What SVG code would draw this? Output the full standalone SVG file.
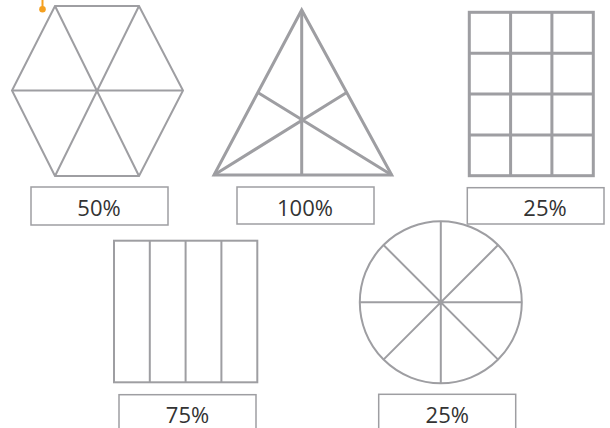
<svg xmlns="http://www.w3.org/2000/svg" width="610" height="428" viewBox="0 0 610 428">
<style>
.s{fill:none;stroke:#9e9ea2;stroke-width:2;stroke-linejoin:miter}
.t{stroke-width:3}
.g{stroke-width:3}
.b{fill:#fff;stroke:#9e9ea2;stroke-width:1.5}
.lbl{font-family:"Open Sans","Noto Sans","Liberation Sans",sans-serif;font-size:22px;fill:#333;text-anchor:middle}
</style>
<rect width="610" height="428" fill="#fff"/>
<g id="marker">
<line x1="42.5" y1="0" x2="42.5" y2="9" stroke="#f5a020" stroke-width="2"/>
<circle cx="42.5" cy="9.3" r="3.3" fill="#f5a020"/>
</g>
<g id="hexagon">
<path class="s" d="M55,6 L139,6 L183,90.5 L139,176 L55,176 L12,90.5 Z"/>
<path class="s" d="M12,90.5 L183,90.5 M55,6 L139,176 M139,6 L55,176"/>
</g>
<g id="label-50">
<rect class="b" x="31" y="187" width="137" height="38"/>
<text class="lbl" x="99" y="216">50%</text>
</g>
<g id="triangle">
<path class="s t" d="M301.7,10 L391.7,175 L214,175 Z"/>
<path class="s t" d="M301.7,10 L301.7,175 M214,175 L346.7,92.5 M391.7,175 L257.8,92.5"/>
</g>
<g id="label-100">
<rect class="b" x="237" y="187" width="137" height="37"/>
<text class="lbl" x="305" y="215.5">100%</text>
</g>
<g id="grid">
<rect class="s g" x="469.3" y="12.3" width="124" height="163.4"/>
<path class="s g" d="M510.6,12.3 V175.7 M551.9,12.3 V175.7 M469.3,53.2 H593.3 M469.3,94 H593.3 M469.3,134.9 H593.3"/>
</g>
<g id="label-25a">
<rect class="b" x="467.3" y="187.7" width="136.7" height="36.3"/>
<text class="lbl" x="545" y="216">25%</text>
</g>
<g id="columns">
<rect class="s" x="114" y="240.7" width="143.3" height="141.6" stroke-width="2.5"/>
<path class="s" stroke-width="2.5" d="M149.8,240.7 V382.3 M185.6,240.7 V382.3 M221.4,240.7 V382.3"/>
</g>
<g id="label-75">
<rect class="b" x="119" y="394.7" width="137" height="40"/>
<text class="lbl" x="187.5" y="423">75%</text>
</g>
<g id="circle">
<circle class="s" cx="440.8" cy="302.3" r="81"/>
<path class="s" d="M440.8,221.3 V383.3 M359.8,302.3 H521.8 M383.5,245 L498.1,359.6 M498.1,245 L383.5,359.6"/>
</g>
<g id="label-25b">
<rect class="b" x="378.7" y="394.3" width="137" height="40"/>
<text class="lbl" x="447.3" y="423">25%</text>
</g>
</svg>
